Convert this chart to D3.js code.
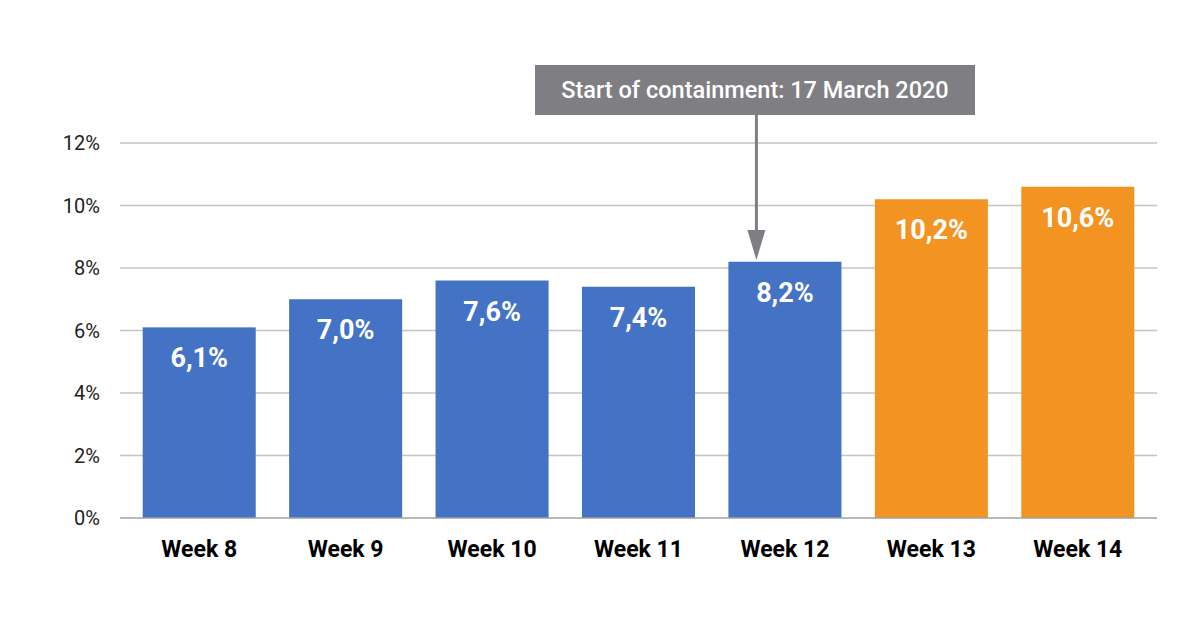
<!DOCTYPE html>
<html>
<head>
<meta charset="utf-8">
<script src="https://cdn.jsdelivr.net/npm/d3@7"></script>
<style>
  body { margin: 0; background: #fff; }
  text { font-family: Roboto, "Noto Sans", sans-serif; }
</style>
</head>
<body>
<script>
// chart data
var weeks = ["Week 8", "Week 9", "Week 10", "Week 11", "Week 12", "Week 13", "Week 14"];
var shares = [6.1, 7.0, 7.6, 7.4, 8.2, 10.2, 10.6];
var afterContainment = [false, false, false, false, false, true, true];
var yTicks = [0, 2, 4, 6, 8, 10, 12];
var annotationText = "Start of containment: 17 March 2020";
var annotationWeek = "Week 12";

var width = 1200, height = 628;

var svg = d3.select("body")
    .append("svg")
    .attr("width", width)
    .attr("height", height);

var x = d3.scaleBand()
    .domain(weeks)
    .range([126, 1151])
    .paddingInner(0.228)
    .paddingOuter(0.114);

var y = d3.scaleLinear()
    .domain([0, 12])
    .range([518, 143]);

// gridlines
svg.append("g")
    .selectAll("line")
    .data(yTicks.filter(d => d > 0))
    .enter()
    .append("line")
    .attr("x1", 120)
    .attr("x2", 1157)
    .attr("y1", d => y(d))
    .attr("y2", d => y(d))
    .style("stroke", "#c4c4c4")
    .style("stroke-width", "1.5px");

// y tick labels
svg.append("g")
    .selectAll("text")
    .data(yTicks)
    .enter()
    .append("text")
    .attr("x", 100)
    .attr("y", d => y(d))
    .attr("dy", "0.35em")
    .attr("text-anchor", "end")
    .style("font-size", "20px")
    .style("fill", "#222")
    .text(d => d + "%");

// bars
var bars = weeks.map((w, i) => ({ week: w, value: shares[i], after: afterContainment[i] }));

svg.append("g")
    .selectAll("rect")
    .data(bars)
    .enter()
    .append("rect")
    .attr("x", d => x(d.week))
    .attr("width", x.bandwidth())
    .attr("y", d => y(d.value))
    .attr("height", d => y(0) - y(d.value))
    .style("fill", d => d.after ? "#f39321" : "#4472c4");

// baseline
svg.append("line")
    .attr("x1", 120)
    .attr("x2", 1157)
    .attr("y1", y(0))
    .attr("y2", y(0))
    .style("stroke", "#a0a0a0")
    .style("stroke-width", "1.5px");

// value labels
svg.append("g")
    .selectAll("text")
    .data(bars)
    .enter()
    .append("text")
    .attr("x", d => x(d.week) + x.bandwidth() / 2)
    .attr("y", d => y(d.value) + 40)
    .attr("text-anchor", "middle")
    .style("font-size", "27px")
    .style("font-weight", "bold")
    .style("fill", "#fff")
    .text(d => d.value.toFixed(1).replace(".", ",") + "%");

// x labels
svg.append("g")
    .selectAll("text")
    .data(weeks)
    .enter()
    .append("text")
    .attr("x", d => x(d) + x.bandwidth() / 2)
    .attr("y", 557)
    .attr("text-anchor", "middle")
    .style("font-size", "23px")
    .style("font-weight", "bold")
    .style("fill", "#000")
    .text(d => d);

// annotation box + arrow
var ax = x(annotationWeek) + 28;
var annot = svg.append("g");

annot.append("rect")
    .attr("x", 535)
    .attr("y", 65)
    .attr("width", 440)
    .attr("height", 50)
    .style("fill", "#7f7f83");

annot.append("text")
    .attr("x", 755)
    .attr("y", 90)
    .attr("dy", "0.35em")
    .attr("text-anchor", "middle")
    .style("font-size", "23.5px")
    .style("font-weight", "500")
    .style("fill", "#fff")
    .text(annotationText);

annot.append("line")
    .attr("x1", ax)
    .attr("x2", ax)
    .attr("y1", 115)
    .attr("y2", 232)
    .style("stroke", "#7f7f83")
    .style("stroke-width", "3px");

annot.append("path")
    .attr("d", "M" + (ax - 9) + ",230 L" + (ax + 9) + ",230 L" + ax + ",260 Z")
    .style("fill", "#7f7f83");
</script>
</body>
</html>
